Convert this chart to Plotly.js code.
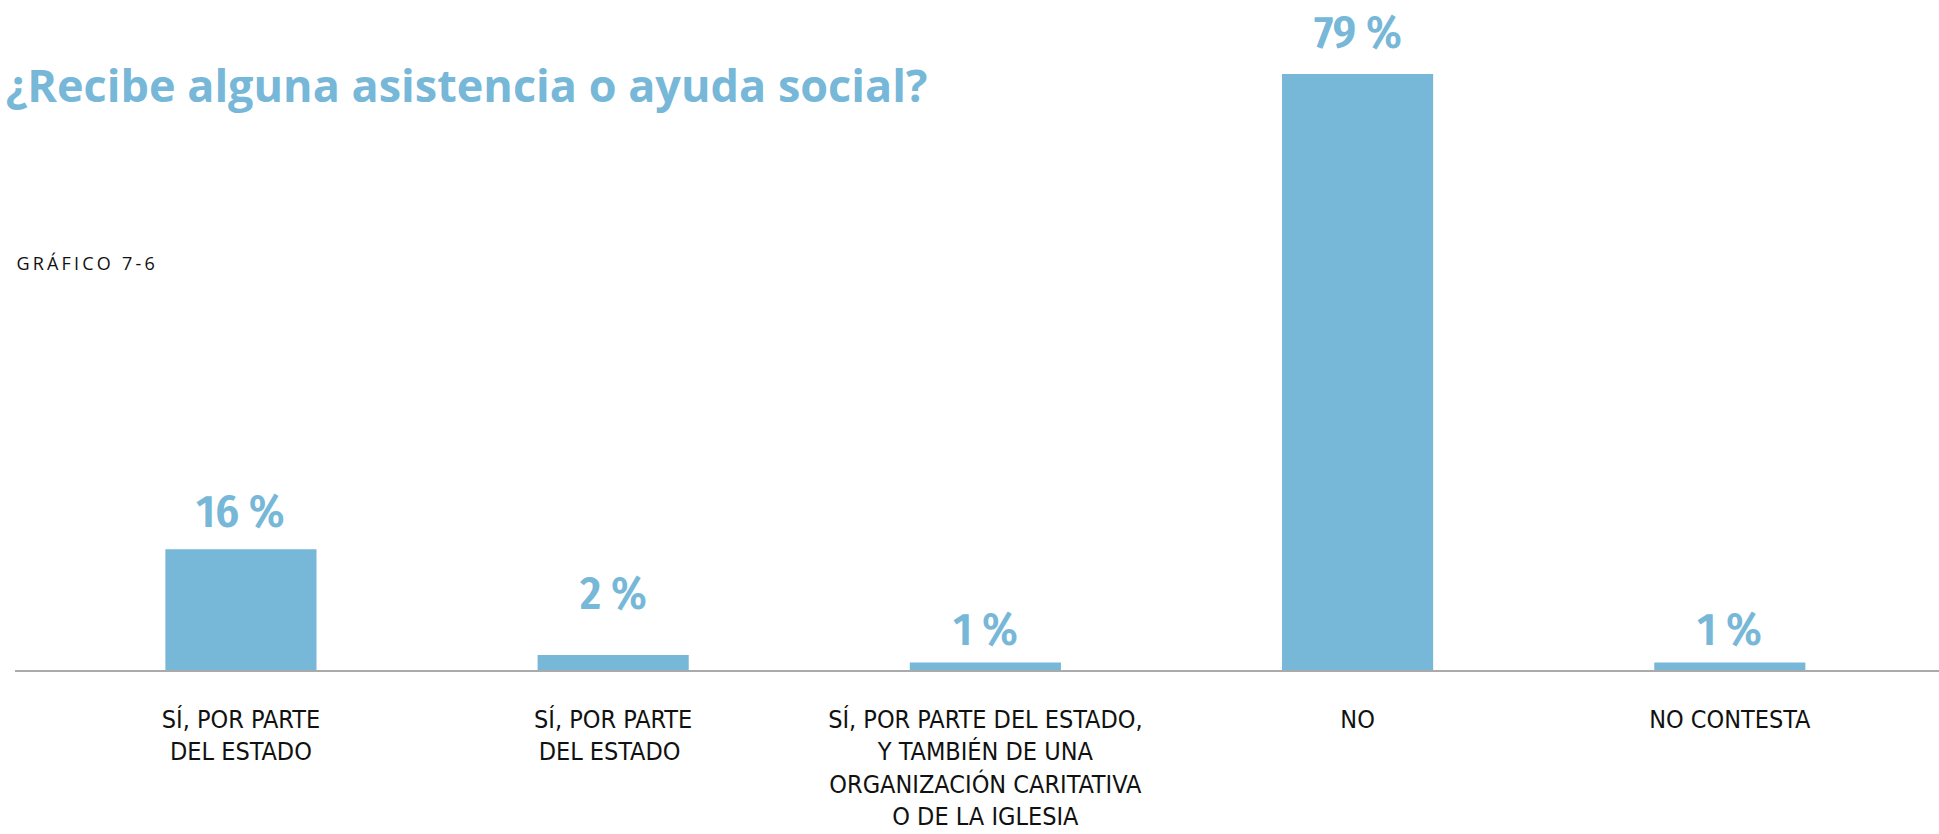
<!DOCTYPE html>
<html>
<head>
<meta charset="utf-8">
<script src="https://cdn.plot.ly/plotly-3.0.1.min.js"></script>
<style>
  body { margin: 0; background: #fff; }
  #chart { width: 1939px; height: 834px; }
  .annotation[data-index="5"] text { letter-spacing: 3.2px; }
</style>
</head>
<body>
<div id="chart"></div>
<script>
// categories and shares (%)
var categories = [
    "SÍ, POR PARTE<br>DEL ESTADO",
    "SÍ, POR PARTE<br>DEL ESTADO ",
    "SÍ, POR PARTE DEL ESTADO,<br>Y TAMBIÉN DE UNA<br>ORGANIZACIÓN CARITATIVA<br>O DE LA IGLESIA",
    "NO",
    "NO CONTESTA"
];
var shares = [16, 2, 1, 79, 1];
var valueLabels = ["16 %", "2 %", "1 %", "79 %", "1 %"];

var blue = "#77b7d8";
var labelLift = [16, 40, 11, 20, 11]; // px gap between bar top and its label

var annotations = categories.map(function (c, i) {
    return {
        x: i, y: shares[i], xref: "x", yref: "y",
        text: valueLabels[i], showarrow: false,
        yanchor: "bottom", yshift: labelLift[i] - 8,
        font: { family: "Liberation Sans Narrow, Fira Sans Condensed, sans-serif", size: 46, color: blue, weight: 600 }
    };
});

annotations.push({
    x: 0, y: 0.607, xref: "paper", yref: "paper",
    xanchor: "left", yanchor: "middle", showarrow: false,
    xshift: 17,
    text: "GRÁFICO 7-6",
    font: { family: "Open Sans", size: 18, color: "#111" }
});

var trace = {
    type: "bar",
    x: [0, 1, 2, 3, 4],
    y: shares,
    marker: { color: blue },
    hoverinfo: "skip"
};

var layout = {
    width: 1939,
    height: 834,
    margin: { l: 15, r: 0, t: 0, b: 164 },
    paper_bgcolor: "#fff",
    plot_bgcolor: "#fff",
    showlegend: false,
    bargap: 0.594,
    title: {
        text: "¿Recibe alguna asistencia o ayuda social?",
        x: 0.003, xanchor: "left", xref: "container",
        y: 1 - 86 / 834, yanchor: "middle", yref: "container",
        font: { family: "Open Sans", size: 45, color: blue, weight: 700 }
    },
    xaxis: {
        tickmode: "array",
        tickvals: [0, 1, 2, 3, 4],
        ticktext: categories,
        range: [-0.607, 4.562],
        showline: true, linecolor: "#aaaaaa", linewidth: 1.5,
        ticks: "", showgrid: false, zeroline: false,
        ticklabelstandoff: 26,
        tickfont: { family: "Liberation Sans Narrow, DejaVu Sans Condensed, sans-serif", size: 25, color: "#111" },
        fixedrange: true
    },
    yaxis: {
        range: [0, 88.8],
        visible: false,
        fixedrange: true
    },
    annotations: annotations
};

Plotly.newPlot("chart", [trace], layout, { displayModeBar: false, staticPlot: true });
</script>
</body>
</html>
